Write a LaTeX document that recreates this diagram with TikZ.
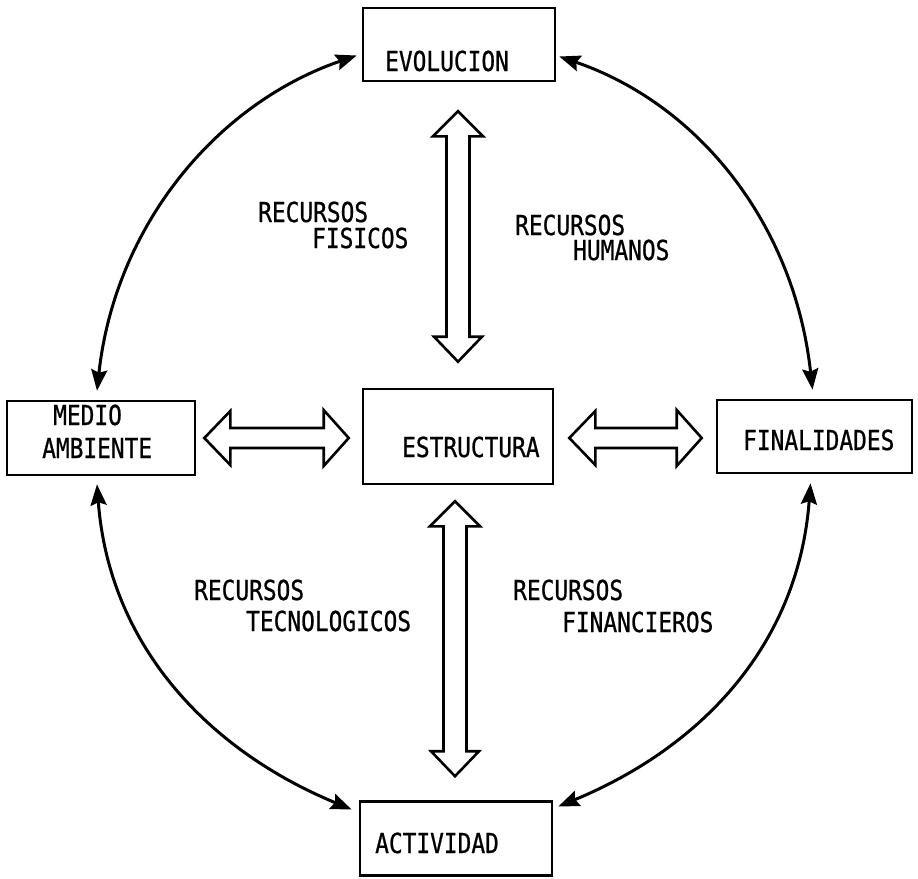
\documentclass[tikz,border=0pt]{standalone}
\usepackage{fontspec}
\usetikzlibrary{calc,arrows.meta}
\newfontfamily\typew[FakeStretch=0.83,FakeBold=0.8]{DejaVu Sans Mono}

% hollow double-headed arrow, horizontal: #1 left tip, #2 right tip
\newcommand\fatH[2]{%
  \draw[fatarrow] (#1) -- ($(#1)+(26,-27)$) -- ($(#1)+(26,-10)$)
    -- ($(#2)+(-25,-10)$) -- ($(#2)+(-25,-28)$) -- (#2)
    -- ($(#2)+(-25,28)$) -- ($(#2)+(-25,10)$)
    -- ($(#1)+(26,10)$) -- ($(#1)+(26,27)$) -- cycle;}
% hollow double-headed arrow, vertical: #1 top tip, #2 bottom tip
\newcommand\fatV[2]{%
  \draw[fatarrow] (#1) -- ($(#1)+(25,25)$) -- ($(#1)+(11.5,25)$)
    -- ($(#2)+(11.5,-25)$) -- ($(#2)+(24,-25)$) -- (#2)
    -- ($(#2)+(-24,-25)$) -- ($(#2)+(-11.5,-25)$)
    -- ($(#1)+(-11.5,25)$) -- ($(#1)+(-25,25)$) -- cycle;}

\tikzset{
  box/.style={draw, line width=2.6pt, rectangle, inner sep=0pt},
  txt/.style={font=\typew\fontsize{27.5}{32}\selectfont, inner sep=0pt, anchor=base west},
  fatarrow/.style={draw, fill=white, line width=2.6pt, line join=miter},
  tip/.style={Stealth[length=21pt,width=16pt,inset=3pt]},
  link/.style={line width=3pt, {Stealth[length=21pt,width=16pt,inset=3pt]}-{Stealth[length=21pt,width=16pt,inset=3pt]}}
}

\begin{document}
\begin{tikzpicture}[x=1pt,y=-1pt]
  \useasboundingbox (0,0) rectangle (918,878);

  % boxes
  \node[box, minimum width=192pt, minimum height=73pt] (evo)   at (459,44.5)  {};
  \node[box, minimum width=188pt, minimum height=74pt] (medio) at (101,438)   {};
  \node[box, minimum width=190pt, minimum height=95pt] (estr)  at (458,436.5) {};
  \node[box, minimum width=195pt, minimum height=73pt] (fin)   at (814.5,436.5) {};
  \node[box, minimum width=192pt, minimum height=74pt] (act)   at (456,838.5) {};

  % box captions
  \node[txt] (evo-t)    at (385,71)  {EVOLUCION};
  \node[txt] (medio-t1) at (53,425)  {MEDIO};
  \node[txt] (medio-t2) at (42,458)  {AMBIENTE};
  \node[txt] (estr-t)   at (402,457) {ESTRUCTURA};
  \node[txt] (fin-t)    at (743,450) {FINALIDADES};
  \node[txt] (act-t)    at (375,853) {ACTIVIDAD};

  % resource labels
  \node[txt] (fis1) at (258,222) {RECURSOS};
  \node[txt] (fis2) at (312,248) {FISICOS};
  \node[txt] (hum1) at (515,235) {RECURSOS};
  \node[txt] (hum2) at (573,260) {HUMANOS};
  \node[txt] (tec1) at (194,600) {RECURSOS};
  \node[txt] (tec2) at (246,631) {TECNOLOGICOS};
  \node[txt] (fna1) at (513,600) {RECURSOS};
  \node[txt] (fna2) at (562,632) {FINANCIEROS};

  % hollow double arrows around ESTRUCTURA
  \coordinate (h1a) at ($(medio.east)+(8,0)$);
  \coordinate (h1b) at ($(h1a -| estr.west)+(-13,0)$);
  \coordinate (h2a) at ($(estr.east)+(15,1.5)$);
  \coordinate (h2b) at ($(h2a -| fin.west)+(-14,0)$);
  \coordinate (v1a) at ($(evo.south)+(-1,29)$);
  \coordinate (v1b) at ($(v1a |- estr.north)+(0,-26)$);
  \coordinate (v2a) at ($(estr.south)+(-3,16)$);
  \coordinate (v2b) at ($(v2a |- act.north)+(0,-24)$);
  \fatH{h1a}{h1b}
  \fatH{h2a}{h2b}
  \fatV{v1a}{v1b}
  \fatV{v2a}{v2b}

  % curved links on the outer ring
  \coordinate (c1a) at ($(medio.north)+(-4,-9)$);
  \coordinate (c1b) at ($(evo.west)+(-5,11)$);
  \coordinate (c2a) at ($(evo.east)+(3,12)$);
  \coordinate (c2b) at ($(fin.north)+(-2,-9)$);
  \coordinate (c3a) at ($(medio.south)+(-4,8)$);
  \coordinate (c3b) at ($(act.west)+(-7,-29)$);
  \coordinate (c4a) at ($(fin.south)+(-4,9)$);
  \coordinate (c4b) at ($(act.east)+(5,-32)$);
  \draw[link] (c1a) .. controls +(18,-165) and +(-140,48) .. (c1b);
  \draw[link] (c2a) .. controls +(140,48) and +(-18,-165) .. (c2b);
  \draw[link] (c3a) .. controls +(12,160) and +(-145,-60) .. (c3b);
  \draw[link] (c4a) .. controls +(-12,160) and +(145,-60) .. (c4b);
\end{tikzpicture}
\end{document}
